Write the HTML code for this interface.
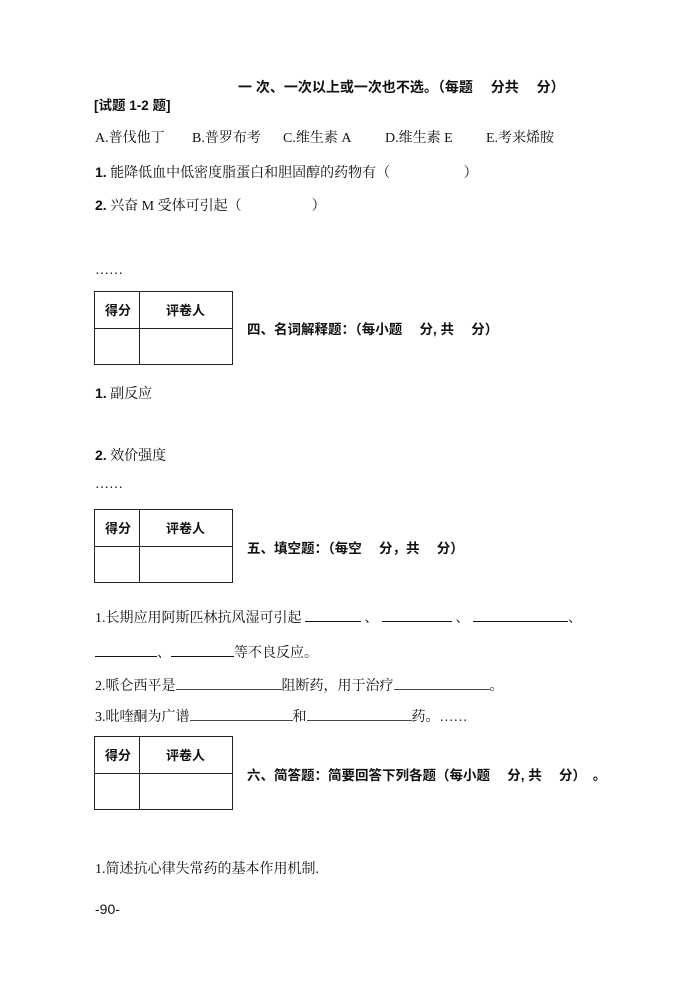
<!DOCTYPE html>
<html><head><meta charset="utf-8"><style>
body{margin:0;width:695px;height:982px;background:#fff;position:relative;color:#111;overflow:hidden}
.t{position:absolute;white-space:pre;line-height:18px;font-size:14px;font-family:"Liberation Serif","Noto Serif CJK SC",serif}
.b{font-family:"Liberation Sans","Noto Sans CJK SC",sans-serif;font-weight:bold;font-size:13.5px}
.n{font-family:"Liberation Sans",sans-serif;font-weight:bold}
.u{display:inline-block;border-bottom:1px solid #111;height:12px;vertical-align:baseline}
.tb{position:absolute;left:94px;width:139px;height:74px;border:1.5px solid #222;box-sizing:border-box}
.tb .h{position:absolute;left:0;right:0;top:36px;border-top:1.5px solid #222}
.tb .v{position:absolute;left:44px;top:0;bottom:0;border-left:1.5px solid #222}
.tb span{position:absolute;top:8px;font-family:"Liberation Sans","Noto Sans CJK SC",sans-serif;font-weight:bold;font-size:13px}
.ul{border-bottom:1px solid #444}
</style></head><body>
<div class="t b" style="left:238px;top:78px;font-size:14px">一 次、一次以上或一次也不选。（每题　 分共　 分）</div>
<div class="t b" style="left:94px;top:97px">[试题 1-2 题]</div>
<div class="t" style="left:95px;top:130px">A.普伐他丁</div>
<div class="t" style="left:192px;top:130px">B.普罗布考</div>
<div class="t" style="left:283px;top:130px">C.维生素 A</div>
<div class="t" style="left:385px;top:130px">D.维生素 E</div>
<div class="t" style="left:486px;top:130px">E.考来烯胺</div>
<div class="t" style="left:95px;top:163px"><span class="n">1.</span> 能降低血中低密度脂蛋白和胆固醇的药物有（　　　　　 ）</div>
<div class="t" style="left:95px;top:196px"><span class="n">2.</span> 兴奋 M 受体可引起（　　　　　）</div>
<div class="t" style="left:95px;top:262px">……</div>

<div class="tb" style="top:291px"><div class="h"></div><div class="v"></div><span style="left:10px">得分</span><span style="left:71px">评卷人</span></div>
<div class="t b" style="left:247px;top:321px">四、名词解释题：（每小题　 分, 共　 分）</div>
<div class="t" style="left:95px;top:384px"><span class="n">1.</span> 副反应</div>
<div class="t" style="left:95px;top:446px"><span class="n">2.</span> 效价强度</div>
<div class="t" style="left:95px;top:476px">……</div>

<div class="tb" style="top:509px"><div class="h"></div><div class="v"></div><span style="left:10px">得分</span><span style="left:71px">评卷人</span></div>
<div class="t b" style="left:247px;top:540px">五、填空题：（每空　 分，共　 分）</div>
<div class="t" style="left:95px;top:609px">1.长期应用阿斯匹林抗风湿可引起 <span class="u" style="width:56px;border-bottom-width:1.5px"></span> 、 <span class="u" style="width:70px;border-bottom-width:1.5px"></span> 、 <span class="u" style="width:95px;border-bottom-width:1.5px"></span>、</div>
<div class="t" style="left:95px;top:644px"><span class="u" style="width:62px;border-bottom-width:1.5px"></span>、<span class="u" style="width:63px;border-bottom-width:1.5px"></span>等不良反应。</div>
<div class="t" style="left:95px;top:677px">2.哌仑西平是<span class="u ul" style="width:106px"></span>阻断药，用于治疗<span class="u ul" style="width:96px"></span>。</div>
<div class="t" style="left:95px;top:708px">3.吡喹酮为广谱<span class="u ul" style="width:103px"></span>和<span class="u ul" style="width:105px"></span>药。……</div>

<div class="tb" style="top:736px"><div class="h"></div><div class="v"></div><span style="left:10px">得分</span><span style="left:71px">评卷人</span></div>
<div class="t b" style="left:247px;top:767px">六、简答题：简要回答下列各题（每小题　 分, 共　 分）　。</div>
<div class="t" style="left:95px;top:861px">1.简述抗心律失常药的基本作用机制.</div>
<div class="t" style="left:95px;top:900px;font-family:'Liberation Sans',sans-serif;font-size:14px">-90-</div>
</body></html>
